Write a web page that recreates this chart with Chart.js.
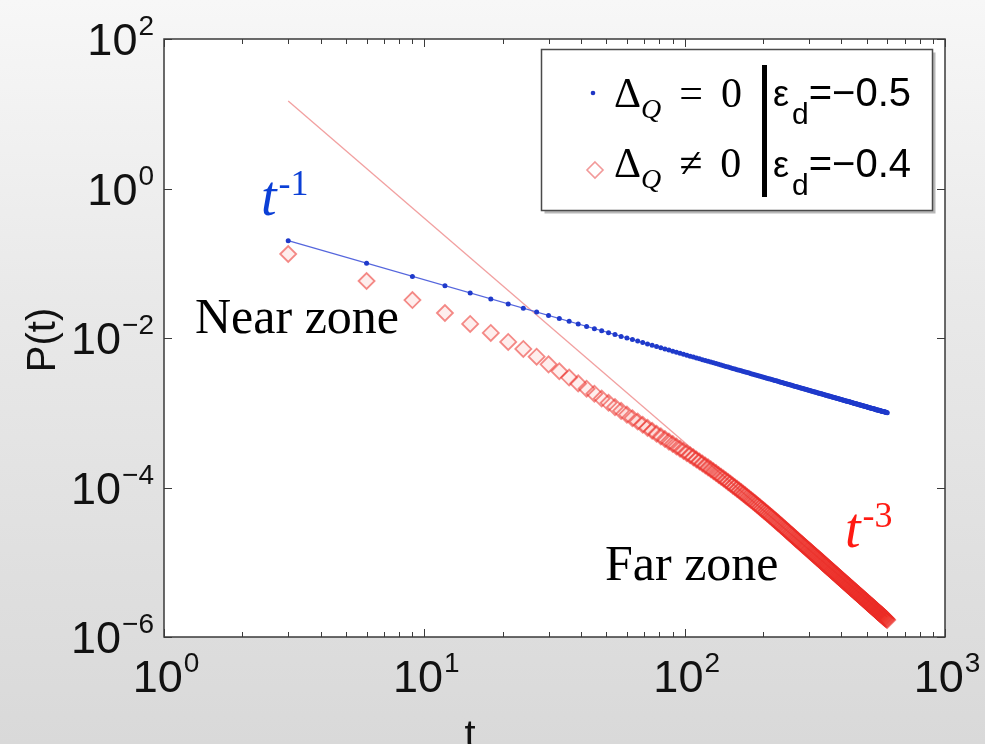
<!DOCTYPE html>
<html>
<head>
<meta charset="utf-8">
<title>P(t)</title>
<script src="https://cdn.jsdelivr.net/npm/chart.js@4.4.1/dist/chart.umd.min.js"></script>
<style>
  html, body { margin: 0; padding: 0; }
  body {
    width: 985px; height: 744px; overflow: hidden;
    background: linear-gradient(to bottom, #f7f7f7 0%, #e9e9e9 40%, #d9d9d9 100%);
  }
  #wrap { position: relative; width: 985px; height: 744px; }
</style>
</head>
<body>
<div id="wrap"><canvas id="decayChart"></canvas></div>
<script>
// time steps t (every 3rd step)
const tValues = [
  3,6,9,12,15,18,21,24,27,30,33,36,39,42,45,48,51,54,57,60,
  63,66,69,72,75,78,81,84,87,90,93,96,99,102,105,108,111,114,117,120,
  123,126,129,132,135,138,141,144,147,150,153,156,159,162,165,168,171,174,177,180,
  183,186,189,192,195,198,201,204,207,210,213,216,219,222,225,228,231,234,237,240,
  243,246,249,252,255,258,261,264,267,270,273,276,279,282,285,288,291,294,297,300,
  303,306,309,312,315,318,321,324,327,330,333,336,339,342,345,348,351,354,357,360,
  363,366,369,372,375,378,381,384,387,390,393,396,399,402,405,408,411,414,417,420,
  423,426,429,432,435,438,441,444,447,450,453,456,459,462,465,468,471,474,477,480,
  483,486,489,492,495,498,501,504,507,510,513,516,519,522,525,528,531,534,537,540,
  543,546,549,552,555,558,561,564,567,570,573,576,579,582,585,588,591,594,597,600
];

// P(t) for Delta_Q = 0 (blue dots)
const pZero = [
  0.2,0.1,0.0667,0.05,0.04,0.0333,0.0286,0.025,0.0222,0.02,0.0182,0.0167,0.0154,0.0143,0.0133,0.0125,0.0118,0.0111,0.0105,0.01,
  0.00952,0.00909,0.0087,0.00833,0.008,0.00769,0.00741,0.00714,0.0069,0.00667,0.00645,0.00625,0.00606,0.00588,0.00571,0.00556,0.00541,0.00526,0.00513,0.005,
  0.00488,0.00476,0.00465,0.00455,0.00444,0.00435,0.00426,0.00417,0.00408,0.004,0.00392,0.00385,0.00377,0.0037,0.00364,0.00357,0.00351,0.00345,0.00339,0.00333,
  0.00328,0.00323,0.00317,0.00313,0.00308,0.00303,0.00299,0.00294,0.0029,0.00286,0.00282,0.00278,0.00274,0.0027,0.00267,0.00263,0.0026,0.00256,0.00253,0.0025,
  0.00247,0.00244,0.00241,0.00238,0.00235,0.00233,0.0023,0.00227,0.00225,0.00222,0.0022,0.00217,0.00215,0.00213,0.00211,0.00208,0.00206,0.00204,0.00202,0.002,
  0.00198,0.00196,0.00194,0.00192,0.0019,0.00189,0.00187,0.00185,0.00183,0.00182,0.0018,0.00179,0.00177,0.00175,0.00174,0.00172,0.00171,0.00169,0.00168,0.00167,
  0.00165,0.00164,0.00163,0.00161,0.0016,0.00159,0.00157,0.00156,0.00155,0.00154,0.00153,0.00152,0.0015,0.00149,0.00148,0.00147,0.00146,0.00145,0.00144,0.00143,
  0.00142,0.00141,0.0014,0.00139,0.00138,0.00137,0.00136,0.00135,0.00134,0.00133,0.00132,0.00132,0.00131,0.0013,0.00129,0.00128,0.00127,0.00127,0.00126,0.00125,
  0.00124,0.00123,0.00123,0.00122,0.00121,0.0012,0.0012,0.00119,0.00118,0.00118,0.00117,0.00116,0.00116,0.00115,0.00114,0.00114,0.00113,0.00112,0.00112,0.00111,
  0.0011,0.0011,0.00109,0.00109,0.00108,0.00108,0.00107,0.00106,0.00106,0.00105,0.00105,0.00104,0.00104,0.00103,0.00103,0.00102,0.00102,0.00101,0.00101,0.001
];

// P(t) for Delta_Q != 0 (red diamonds)
const pNonZero = [
  0.133,0.0579,0.0322,0.0216,0.0154,0.0117,0.00885,0.00713,0.00562,0.00444,0.00359,0.00296,0.00247,0.0021,0.0018,0.00155,0.00136,0.00119,0.00106,9.44e-4,
  8.46e-4,7.63e-4,6.91e-4,6.28e-4,5.73e-4,5.25e-4,4.83e-4,4.45e-4,4.11e-4,3.82e-4,3.54e-4,3.30e-4,3.08e-4,2.88e-4,2.70e-4,2.53e-4,2.37e-4,2.23e-4,2.10e-4,1.97e-4,
  1.86e-4,1.75e-4,1.65e-4,1.56e-4,1.47e-4,1.39e-4,1.32e-4,1.25e-4,1.18e-4,1.12e-4,1.06e-4,1.01e-4,9.59e-5,9.11e-5,8.67e-5,8.25e-5,7.85e-5,7.48e-5,7.13e-5,6.80e-5,
  6.49e-5,6.19e-5,5.92e-5,5.65e-5,5.40e-5,5.17e-5,4.94e-5,4.73e-5,4.53e-5,4.34e-5,4.16e-5,3.99e-5,3.83e-5,3.67e-5,3.52e-5,3.39e-5,3.25e-5,3.12e-5,3.00e-5,2.89e-5,
  2.78e-5,2.67e-5,2.58e-5,2.48e-5,2.39e-5,2.31e-5,2.23e-5,2.15e-5,2.07e-5,2.00e-5,1.94e-5,1.87e-5,1.81e-5,1.75e-5,1.69e-5,1.64e-5,1.59e-5,1.54e-5,1.49e-5,1.45e-5,
  1.40e-5,1.36e-5,1.32e-5,1.28e-5,1.24e-5,1.21e-5,1.17e-5,1.14e-5,1.11e-5,1.08e-5,1.05e-5,1.02e-5,9.89e-6,9.63e-6,9.37e-6,9.12e-6,8.88e-6,8.65e-6,8.43e-6,8.21e-6,
  8.00e-6,7.80e-6,7.61e-6,7.42e-6,7.24e-6,7.06e-6,6.89e-6,6.73e-6,6.56e-6,6.41e-6,6.26e-6,6.11e-6,5.97e-6,5.83e-6,5.70e-6,5.57e-6,5.45e-6,5.32e-6,5.21e-6,5.09e-6,
  4.98e-6,4.88e-6,4.77e-6,4.67e-6,4.57e-6,4.47e-6,4.38e-6,4.29e-6,4.20e-6,4.11e-6,4.03e-6,3.95e-6,3.87e-6,3.79e-6,3.72e-6,3.64e-6,3.57e-6,3.50e-6,3.43e-6,3.37e-6,
  3.30e-6,3.24e-6,3.18e-6,3.12e-6,3.06e-6,3.00e-6,2.95e-6,2.89e-6,2.84e-6,2.79e-6,2.74e-6,2.69e-6,2.64e-6,2.60e-6,2.55e-6,2.51e-6,2.46e-6,2.42e-6,2.38e-6,2.34e-6,
  2.30e-6,2.26e-6,2.22e-6,2.18e-6,2.15e-6,2.11e-6,2.08e-6,2.04e-6,2.01e-6,1.98e-6,1.95e-6,1.91e-6,1.88e-6,1.85e-6,1.82e-6,1.80e-6,1.77e-6,1.74e-6,1.71e-6,1.69e-6
];

// guide lines t^-1 and t^-3 (end points)
const fitT = [3, 600];
const fitSlow = [0.2, 0.001];
const fitFast = [14.8, 1.85e-6];

// axis ticks (exponents of 10)
const xExps = [0, 1, 2, 3];
const yExps = [2, 0, -2, -4, -6];

const toPts = (xs, ys) => xs.map((x, i) => ({ x: x, y: ys[i] }));

// "10" with a raised exponent
function drawPow(ctx, x, y, exp, align) {
  const base = '10';
  const sup = exp < 0 ? '\u2212' + (-exp) : String(exp);
  const fb = '45px "Liberation Sans"', fs = '28px "Liberation Sans"';
  ctx.font = fb; const wb = ctx.measureText(base).width;
  ctx.font = fs; const ws = ctx.measureText(sup).width;
  const w = wb + ws + 1;
  const x0 = align === 'right' ? x - w : x - w / 2;
  ctx.textAlign = 'left';
  ctx.font = fb; ctx.fillText(base, x0, y);
  ctx.font = fs; ctx.fillText(sup, x0 + wb + 1, y - 20);
}

// draw a run of text pieces (for sub/superscripts)
function runs(ctx, x, y, parts) {
  let cx = x;
  parts.forEach(p => {
    ctx.font = p.f;
    ctx.fillStyle = p.c || '#000';
    ctx.fillText(p.t, cx + (p.dx || 0), y + (p.dy || 0));
    cx += ctx.measureText(p.t).width + (p.dx || 0);
  });
  return cx;
}

const decor = {
  id: 'decor',
  beforeDraw(chart) {
    const { ctx, chartArea: a } = chart;
    ctx.save();
    ctx.fillStyle = '#ffffff';
    ctx.fillRect(a.left, a.top, a.right - a.left, a.bottom - a.top);
    ctx.restore();
  },
  afterDraw(chart) {
    const { ctx, chartArea: a, scales } = chart;
    const xs = scales.x, ys = scales.y;
    ctx.save();

    // axes box
    ctx.strokeStyle = '#3a3a3a';
    ctx.lineWidth = 1.5;
    ctx.strokeRect(a.left, a.top, a.right - a.left, a.bottom - a.top);

    // ticks inside the box
    ctx.lineWidth = 1;
    ctx.beginPath();
    for (let e = 0; e < 3; e++) {
      for (let k = 1; k <= 10; k++) {
        const px = Math.round(xs.getPixelForValue(k * Math.pow(10, e))) + 0.5;
        const len = (k === 1 || k === 10) ? 8 : 5;
        ctx.moveTo(px, a.bottom); ctx.lineTo(px, a.bottom - len);
        ctx.moveTo(px, a.top); ctx.lineTo(px, a.top + len);
      }
    }
    yExps.forEach(e => {
      const py = Math.round(ys.getPixelForValue(Math.pow(10, e))) + 0.5;
      ctx.moveTo(a.left, py); ctx.lineTo(a.left + 8, py);
      ctx.moveTo(a.right, py); ctx.lineTo(a.right - 8, py);
    });
    ctx.stroke();

    // tick labels
    ctx.fillStyle = '#111';
    ctx.textBaseline = 'alphabetic';
    xExps.forEach(e => drawPow(ctx, xs.getPixelForValue(Math.pow(10, e)) + 2, a.bottom + 55, e, 'center'));
    yExps.forEach(e => drawPow(ctx, a.left - 10, ys.getPixelForValue(Math.pow(10, e)) + 16, e, 'right'));

    // axis titles
    ctx.font = '40px "Liberation Sans"';
    ctx.textAlign = 'center';
    ctx.fillText('t', 470, 748);
    ctx.save();
    ctx.translate(55, 340);
    ctx.rotate(-Math.PI / 2);
    ctx.fillText('P(t)', 0, 0);
    ctx.restore();

    // annotations
    ctx.textAlign = 'left';
    ctx.fillStyle = '#000';
    ctx.font = '50px "Liberation Serif"';
    ctx.fillText('Near zone', 195, 333);
    ctx.fillText('Far zone', 605, 580);
    runs(ctx, 261, 215, [
      { t: 't', f: 'italic 56px "Liberation Serif"', c: '#0b3fd6' },
      { t: '-1', f: '36px "Liberation Serif"', c: '#0b3fd6', dy: -20, dx: 2 }
    ]);
    runs(ctx, 845, 547, [
      { t: 't', f: 'italic 56px "Liberation Serif"', c: '#ff1a12' },
      { t: '-3', f: '36px "Liberation Serif"', c: '#ff1a12', dy: -20, dx: 2 }
    ]);

    // legend box
    const L = { x: 541.5, y: 49.5, w: 391, h: 161 };
    ctx.fillStyle = '#b8b8b8';
    ctx.fillRect(L.x + 3, L.y + 3, L.w, L.h);
    ctx.fillStyle = '#ffffff';
    ctx.fillRect(L.x, L.y, L.w, L.h);
    ctx.strokeStyle = '#4a4a4a';
    ctx.lineWidth = 1.5;
    ctx.strokeRect(L.x, L.y, L.w, L.h);

    // legend markers
    ctx.fillStyle = '#1f36c4';
    ctx.beginPath(); ctx.arc(593, 93, 2.3, 0, Math.PI * 2); ctx.fill();
    ctx.strokeStyle = 'rgba(232,70,70,0.55)';
    ctx.lineWidth = 1.6;
    ctx.beginPath();
    ctx.moveTo(595, 162); ctx.lineTo(603, 170); ctx.lineTo(595, 178); ctx.lineTo(587, 170); ctx.closePath();
    ctx.stroke();

    const fSerif = '42px "Liberation Serif"';
    const fQ = 'italic 28px "Liberation Serif"';
    runs(ctx, 614, 107, [
      { t: '\u0394', f: fSerif }, { t: 'Q', f: fQ, dy: 11 },
      { t: '=', f: fSerif, dx: 18 }, { t: '0', f: fSerif, dx: 18 }
    ]);
    runs(ctx, 614, 177, [
      { t: '\u0394', f: fSerif }, { t: 'Q', f: fQ, dy: 11 },
      { t: '\u2260', f: fSerif, dx: 18 }, { t: '0', f: fSerif, dx: 18 }
    ]);
    ctx.fillStyle = '#000';
    ctx.fillRect(762, 65, 5, 132);
    const fSans = '40px "Liberation Sans"';
    runs(ctx, 773, 106, [
      { t: '\u03b5', f: '36px "Liberation Sans"' }, { t: 'd', f: '30px "Liberation Sans"', dy: 18, dx: 3 },
      { t: '=\u22120.5', f: fSans }
    ]);
    runs(ctx, 773, 177, [
      { t: '\u03b5', f: '36px "Liberation Sans"' }, { t: 'd', f: '30px "Liberation Sans"', dy: 18, dx: 3 },
      { t: '=\u22120.4', f: fSans }
    ]);

    ctx.restore();
  }
};

new Chart(document.getElementById('decayChart'), {
  type: 'scatter',
  data: {
    datasets: [
      {
        label: '\u0394Q = 0',
        data: toPts(tValues, pZero),
        pointRadius: 2.5,
        pointHoverRadius: 2.5,
        pointBackgroundColor: '#1f3acb',
        pointBorderWidth: 0,
        showLine: false
      },
      {
        label: 't^-1',
        data: toPts(fitT, fitSlow),
        showLine: true,
        borderColor: '#5566dd',
        borderWidth: 1.3,
        pointRadius: 0
      },
      {
        label: '\u0394Q \u2260 0',
        data: toPts(tValues, pNonZero),
        pointStyle: 'rectRot',
        pointRadius: 8,
        pointHoverRadius: 8,
        pointBackgroundColor: 'rgba(240,40,30,0.08)',
        pointBorderColor: 'rgba(235,45,40,0.55)',
        pointBorderWidth: 1.8,
        showLine: false
      },
      {
        label: 't^-3',
        data: toPts(fitT, fitFast),
        showLine: true,
        borderColor: '#f2a0a0',
        borderWidth: 1.3,
        pointRadius: 0
      }
    ]
  },
  options: {
    responsive: true,
    maintainAspectRatio: false,
    animation: false,
    events: [],
    layout: { padding: { left: 164, top: 39, right: 40, bottom: 107 } },
    plugins: { legend: { display: false }, tooltip: { enabled: false } },
    scales: {
      x: { type: 'logarithmic', min: 1, max: 1000, display: false },
      y: { type: 'logarithmic', min: 1e-6, max: 100, display: false }
    }
  },
  plugins: [decor]
});
</script>
</body>
</html>
